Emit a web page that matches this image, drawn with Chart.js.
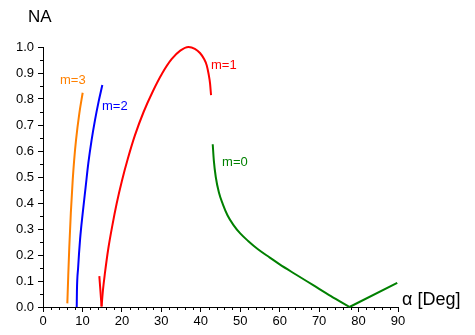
<!DOCTYPE html>
<html>
<head>
<meta charset="utf-8">
<script src="https://cdn.jsdelivr.net/npm/chart.js@4"></script>
<style>
  body { margin: 0; background: #fff; }
  #wrap { width: 475px; height: 335px; }
</style>
</head>
<body>
<div id="wrap"><canvas id="chart"></canvas></div>
<script>
// curve points: [alpha in deg, NA]
// m=1 and m=0 have a sharp V, so each is kept as two pieces
const m3 = [[6.17, 0.014], [6.4, 0.12], [6.67, 0.232], [7.05, 0.36], [7.53, 0.488], [7.9, 0.565], [8.37, 0.642], [9.21, 0.745], [10.06, 0.824]];
const m2 = [[8.55, 0.0], [8.6, 0.06], [8.9, 0.15], [9.4, 0.26], [10.06, 0.36], [10.8, 0.46], [11.49, 0.553], [12.3, 0.64], [13.18, 0.719], [14.1, 0.79], [15.04, 0.854]];
const m1Dip = [[14.28, 0.119], [14.85, 0.002]];
const m1 = [[14.85, 0.002], [15.2, 0.065], [15.7, 0.13], [16.56, 0.225], [17.6, 0.315], [18.69, 0.399], [20.0, 0.485], [21.5, 0.57], [23.3, 0.66], [25.5, 0.75], [27.8, 0.828], [30.2, 0.898], [32.6, 0.953], [34.8, 0.986], [36.9, 1.0], [38.5, 0.993], [39.8, 0.977], [40.8, 0.955], [41.5, 0.93], [42.0, 0.895], [42.35, 0.86], [42.6, 0.815]];
const m0 = [[43.03, 0.626], [43.3, 0.565], [43.8, 0.5], [44.6, 0.44], [45.6, 0.395], [46.8, 0.352], [48.3, 0.315], [50.0, 0.283], [52.0, 0.254], [54.5, 0.222], [57.5, 0.19], [60.0, 0.164], [64.0, 0.126], [68.5, 0.084], [73.0, 0.042], [77.7, 0.0]];
const m0Rise = [[77.7, 0.0], [89.8, 0.093]];

const seriesNames = ["m=3", "m=2", "m=1", "m=0"];
const seriesColors = ["#ff8000", "#0000ff", "#ff0000", "#008000"];
// where each label sits, in data units (left edge, baseline)
const labelAt = [[4.3, 0.858], [14.95, 0.758], [42.6, 0.915], [45.4, 0.542]];

const pieces = [
    { pts: m3, color: 0 },
    { pts: m2, color: 1 },
    { pts: m1Dip, color: 2 },
    { pts: m1, color: 2 },
    { pts: m0, color: 3 },
    { pts: m0Rise, color: 3 }
];

const xTicks = [0, 10, 20, 30, 40, 50, 60, 70, 80, 90];
const yTicks = [0.0, 0.1, 0.2, 0.3, 0.4, 0.5, 0.6, 0.7, 0.8, 0.9, 1.0];

const FONT = "'Liberation Sans', Arial, sans-serif";

const extras = {
    id: "extras",
    afterDraw(chart) {
        const ctx = chart.ctx;
        const x = chart.scales.x;
        const y = chart.scales.y;
        const area = chart.chartArea;

        // minor ticks
        ctx.save();
        ctx.strokeStyle = "#000";
        ctx.lineWidth = 1;
        ctx.beginPath();
        for (let v = 2; v < 90; v += 2) {
            if (v % 10 === 0) continue;
            let px = Math.round(x.getPixelForValue(v)) + 0.5;
            ctx.moveTo(px, area.bottom);
            ctx.lineTo(px, area.bottom + 3);
        }
        for (let i = 1; i < 20; i += 2) {
            let py = Math.round(y.getPixelForValue(i * 0.05)) + 0.5;
            ctx.moveTo(area.left - 3, py);
            ctx.lineTo(area.left, py);
        }
        ctx.stroke();

        // curve labels
        ctx.font = "13px " + FONT;
        ctx.textBaseline = "alphabetic";
        ctx.textAlign = "left";
        for (let i = 0; i < seriesNames.length; i++) {
            ctx.fillStyle = seriesColors[i];
            ctx.fillText(seriesNames[i], x.getPixelForValue(labelAt[i][0]), y.getPixelForValue(labelAt[i][1]));
        }

        // axis titles
        ctx.fillStyle = "#000";
        ctx.font = "17px " + FONT;
        ctx.fillText("NA", area.left - 15, area.top - 25);
        ctx.font = "18px " + FONT;
        ctx.fillText("α [Deg]", area.right + 4, area.bottom - 2);
        ctx.restore();
    }
};

new Chart(document.getElementById("chart"), {
    type: "scatter",
    data: {
        datasets: pieces.map(p => ({
            label: seriesNames[p.color],
            data: p.pts.map(q => ({ x: q[0], y: q[1] })),
            showLine: true,
            borderColor: seriesColors[p.color],
            borderWidth: 2,
            pointRadius: 0,
            cubicInterpolationMode: "monotone",
            borderCapStyle: "butt",
            clip: false
        }))
    },
    options: {
        responsive: true,
        maintainAspectRatio: false,
        animation: false,
        layout: { padding: { top: 47, right: 77, left: 0, bottom: 0 } },
        plugins: {
            legend: { display: false },
            tooltip: { enabled: false }
        },
        scales: {
            x: {
                min: 0,
                max: 90,
                afterFit: s => { s.height = 28; },
                afterBuildTicks: s => { s.ticks = xTicks.map(v => ({ value: v })); },
                ticks: {
                    color: "#000",
                    font: { size: 13, family: FONT },
                    padding: 2,
                    maxRotation: 0,
                    autoSkip: false
                },
                grid: { drawOnChartArea: false, tickLength: 5, color: "#000" },
                border: { color: "#000", width: 1 }
            },
            y: {
                min: 0,
                max: 1,
                afterFit: s => { s.width = 43; },
                afterBuildTicks: s => { s.ticks = yTicks.map(v => ({ value: v })); },
                ticks: {
                    color: "#000",
                    font: { size: 13, family: FONT },
                    padding: 4,
                    autoSkip: false,
                    callback: v => v.toFixed(1)
                },
                grid: { drawOnChartArea: false, tickLength: 5, color: "#000" },
                border: { color: "#000", width: 1 }
            }
        }
    },
    plugins: [extras]
});
</script>
</body>
</html>
